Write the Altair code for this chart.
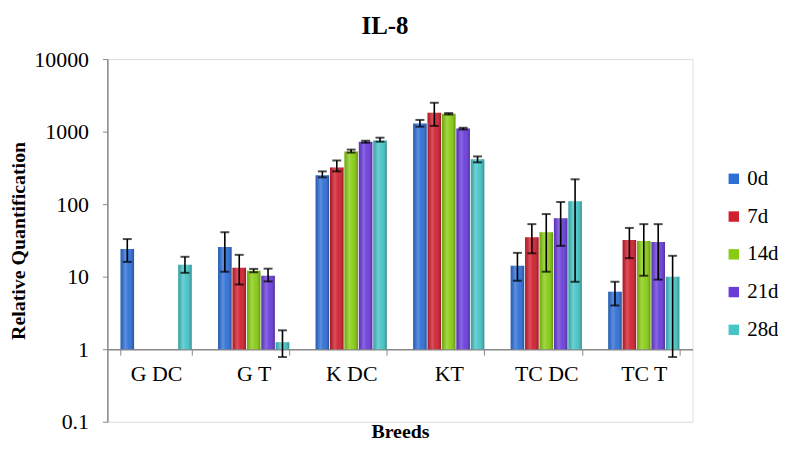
import altair as alt
import pandas as pd

breeds = ["G DC", "G T", "K DC", "KT", "TC DC", "TC T"]
days = ["0d", "7d", "14d", "21d", "28d"]
colors = ["#2E6FD6", "#D01F2E", "#88CC12", "#6A3DDA", "#46C4C6"]

values = {
    "0d":  [24, 25.7, 251, 1290, 14.1, 6.2],
    "7d":  [None, 13.3, 321, 1820, 35, 32],
    "14d": [None, 12.1, 534, 1760, 41, 31],
    "21d": [None, 10.3, 726, 1100, 64, 30],
    "28d": [14.6, 1.25, 757, 415, 110, 10],
}
err_hi = {
    "0d":  [33, 41, 283, 1450, 21.3, 8.5],
    "7d":  [None, 20, 400, 2500, 53, 47],
    "14d": [None, 12.8, 565, 1800, 73, 53],
    "21d": [None, 12.9, 750, 1130, 107, 53],
    "28d": [18.8, 1.82, 825, 455, 220, 19.4],
}
err_lo = {
    "0d":  [16, 11.7, 234, 1170, 8.8, 4.0],
    "7d":  [None, 7.8, 283, 1200, 21, 18],
    "14d": [None, 11.5, 514, 1720, 11.7, 10.3],
    "21d": [None, 8.6, 700, 1070, 26.6, 9.1],
    "28d": [11.3, 0.78, 726, 377, 8.5, 0.78],
}

rows = []
for d in days:
    for i, b in enumerate(breeds):
        v = values[d][i]
        if v is None:
            continue
        rows.append({"breed": b, "day": d, "value": v, "lo": err_lo[d][i],
                     "hi": err_hi[d][i], "base": 1})
df = pd.DataFrame(rows)

FONT = "Liberation Serif"
yscale = alt.Scale(type="log", domain=[0.1, 10000], nice=False)
yaxis = alt.Axis(values=[0.1, 1, 10, 100, 1000, 10000], format="~g", grid=False,
                 title="Relative Quantification", titleFontSize=20, titleFontWeight="bold",
                 titleFont=FONT, titleColor="black", titlePadding=5,
                 labelFontSize=22, labelFont=FONT, labelColor="black", labelPadding=14,
                 tickSize=5, tickColor="#888888", domainColor="#888888", domainWidth=1.5)
xaxis = alt.Axis(title="Breeds", titleFontSize=20, titleFontWeight="bold", titleFont=FONT,
                 titleColor="black", titlePadding=37, labelAngle=0, labelFontSize=22,
                 labelFont=FONT, labelColor="black", labelPadding=9, offset=-73,
                 tickBand="extent", tickSize=6, tickColor="#888888",
                 domainColor="#888888", domainWidth=1.5)

base = alt.Chart(df).encode(
    x=alt.X("breed:N", sort=breeds,
            scale=alt.Scale(domain=breeds, paddingInner=0.27, paddingOuter=0.135),
            axis=xaxis),
    xOffset=alt.XOffset("day:N", sort=days,
                        scale=alt.Scale(domain=days, paddingInner=0.06)),
)

bars = base.mark_bar().encode(
    y=alt.Y("value:Q", scale=yscale, axis=yaxis),
    y2="base:Q",
    color=alt.Color("day:N", sort=days, scale=alt.Scale(domain=days, range=colors),
                    legend=alt.Legend(title=None, orient="none", legendX=620, legendY=110,
                                      symbolType="square", symbolSize=110,
                                      symbolStrokeWidth=0, labelFontSize=21,
                                      labelFont=FONT, labelColor="black",
                                      rowPadding=16, labelOffset=3)),
)

shade = base.mark_bar(
    color=alt.Gradient(
        gradient="linear", x1=0, x2=1, y1=0, y2=0,
        stops=[alt.GradientStop(offset=0, color="rgba(0,0,0,0.18)"),
               alt.GradientStop(offset=0.35, color="rgba(255,255,255,0.22)"),
               alt.GradientStop(offset=0.6, color="rgba(255,255,255,0.05)"),
               alt.GradientStop(offset=1, color="rgba(0,0,0,0.28)")])
).encode(
    y=alt.Y("value:Q", scale=yscale, axis=yaxis),
    y2="base:Q",
)

rules = base.mark_rule(color="black", strokeWidth=1.6).encode(
    y=alt.Y("lo:Q", scale=yscale, axis=yaxis),
    y2="hi:Q",
)
cap_hi = base.mark_tick(color="black", thickness=2, size=9).encode(
    y=alt.Y("hi:Q", scale=yscale, axis=yaxis))
cap_lo = base.mark_tick(color="black", thickness=2, size=9).encode(
    y=alt.Y("lo:Q", scale=yscale, axis=yaxis))

chart = alt.layer(bars, shade, rules, cap_hi, cap_lo).properties(
    width=589, height=365,
    autosize=alt.AutoSizeParams(type="none"),
    padding={"left": 100, "top": 50, "right": 86, "bottom": 22},
    title=alt.Title("IL-8", fontSize=25, fontWeight="bold", font=FONT, color="black",
                    anchor="middle", offset=9, dx=-15),
).configure_view(stroke=None).configure(background="white", font=FONT)

chart.save("out.html", embed_options={"renderer": "svg", "actions": False})
